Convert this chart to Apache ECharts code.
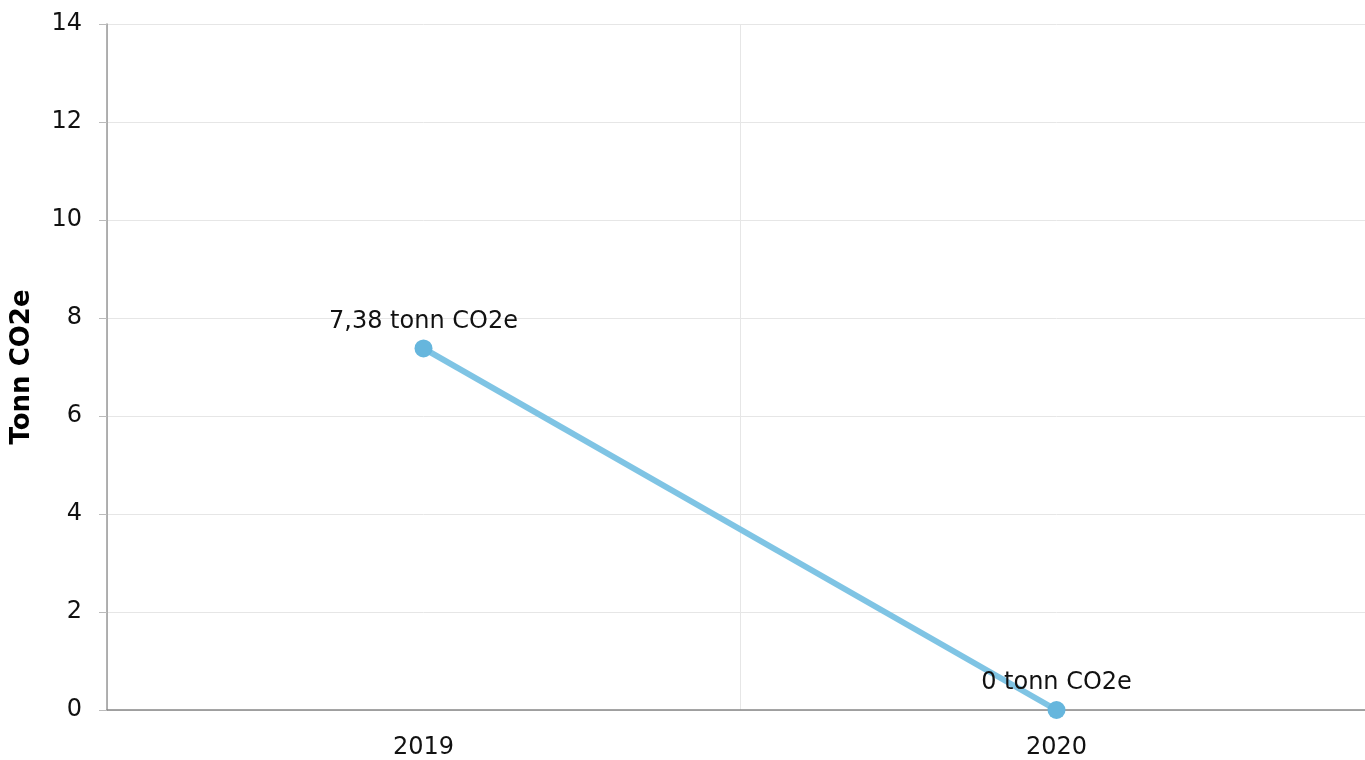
<!DOCTYPE html>
<html>
<head>
<meta charset="utf-8">
<script src="https://cdn.jsdelivr.net/npm/echarts@6/dist/echarts.min.js"></script>
<style>
  html, body { margin: 0; padding: 0; background: #fff; overflow: hidden; }
  /* the plot area runs a little past the right edge of the window */
  #chart { width: 1373px; height: 760px; }
</style>
</head>
<body>
<div id="chart"></div>
<script>
const years = ["2019", "2020"];
const emissions = [7.38, 0];
const yTicks = { min: 0, max: 14, interval: 2 };
const unit = "tonn CO2e";

const font = "Verdana, 'DejaVu Sans', sans-serif";

const chart = echarts.init(document.getElementById("chart"));
chart.setOption({
  animation: false,
  textStyle: { fontFamily: font },
  grid: { left: 107, right: 0, top: 24, bottom: 50 },
  xAxis: {
    type: "category",
    data: years,
    boundaryGap: true,
    axisLine: { lineStyle: { color: "#888", width: 1.5 } },
    axisTick: { alignWithLabel: true, length: 8, lineStyle: { color: "#bbb" } },
    axisLabel: { color: "#111", fontSize: 24, margin: 26, fontFamily: font },
    splitLine: { show: true, lineStyle: { color: "#e6e6e6" } },
  },
  yAxis: {
    type: "value",
    min: yTicks.min,
    max: yTicks.max,
    interval: yTicks.interval,
    name: "Tonn CO2e",
    nameLocation: "middle",
    nameGap: 72,
    nameTextStyle: { color: "#000", fontSize: 26, fontWeight: "bold", fontFamily: font },
    axisLine: { show: true, lineStyle: { color: "#999", width: 1.5 } },
    axisTick: { show: true, length: 8, lineStyle: { color: "#bbb" } },
    axisLabel: { color: "#111", fontSize: 24, margin: 25, fontFamily: font },
    splitLine: { lineStyle: { color: "#e6e6e6" } },
  },
  series: [
    {
      type: "line",
      data: emissions,
      symbol: "circle",
      symbolSize: 18,
      lineStyle: { color: "#7fc4e4", width: 6 },
      itemStyle: { color: "#66b6dd" },
      label: {
        show: true,
        position: "top",
        distance: 6,
        color: "#111",
        fontSize: 24,
        fontFamily: font,
        formatter: (p) => String(p.value).replace(".", ",") + " " + unit,
      },
    },
  ],
});
</script>
</body>
</html>
